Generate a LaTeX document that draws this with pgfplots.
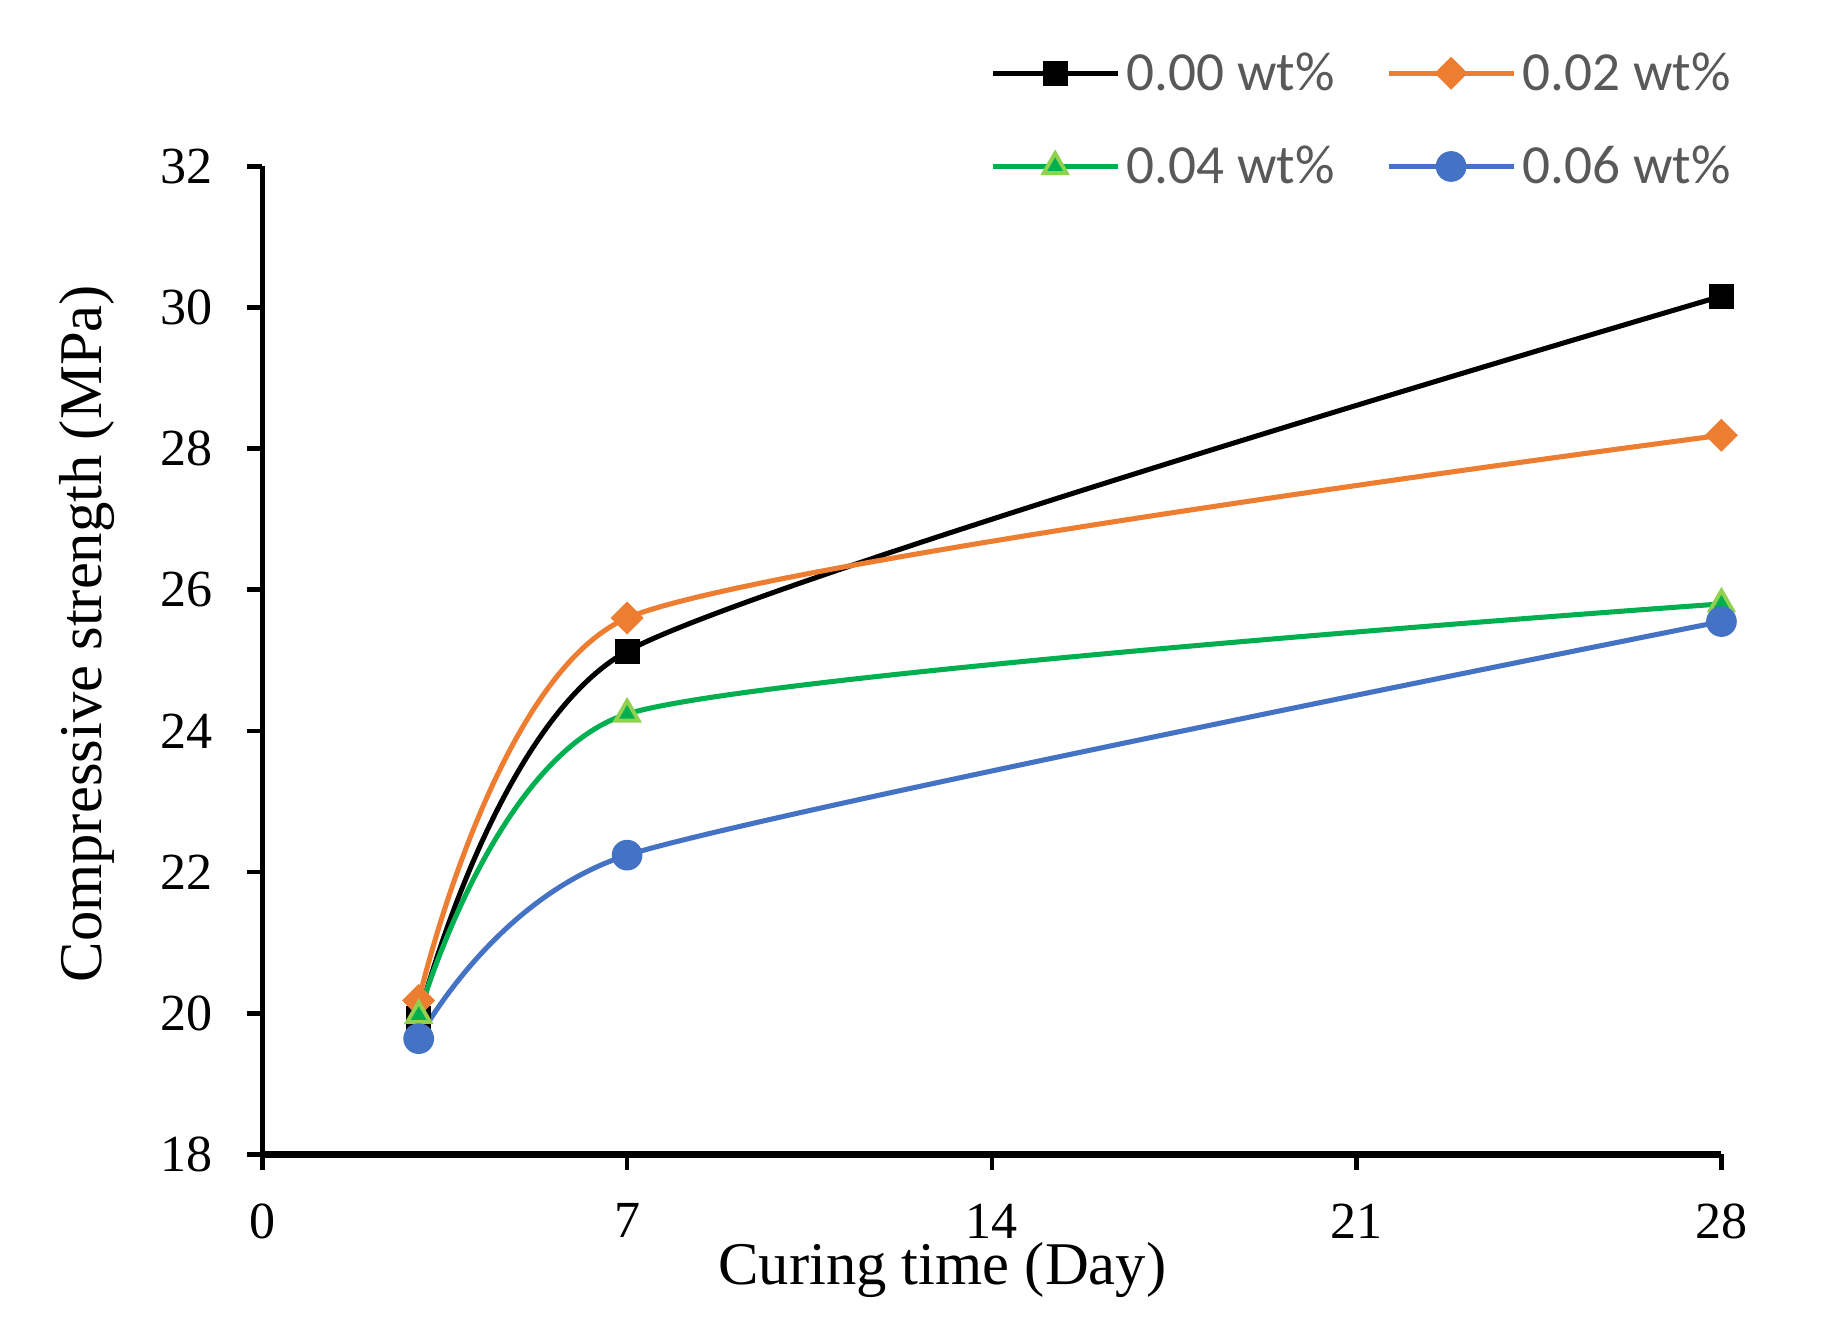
\documentclass[border=0pt]{standalone}
\usepackage{fontspec}
\setmainfont{Liberation Serif}
\newfontfamily\legendfont{Carlito}
\usepackage{pgfplots}
\pgfplotsset{compat=1.18}

\definecolor{cblack}{HTML}{000000}
\definecolor{corange}{HTML}{ED7D31}
\definecolor{cgreen}{HTML}{00B050}
\definecolor{cgreenl}{HTML}{92D050}
\definecolor{cblue}{HTML}{4472C4}
\definecolor{legtext}{HTML}{595959}

\begin{document}
\begin{tikzpicture}
\path[use as bounding box] (-67.5pt,-43.8pt) rectangle (404.1pt,297pt);
\begin{axis}[
    at={(0,0)}, anchor=south west,
    scale only axis,
    width=375.4pt, height=254.2pt,
    xmin=0, xmax=28, ymin=18, ymax=32,
    xtick={0,7,14,21,28},
    ytick={18,20,...,32},
    axis lines*=left,
    x axis line style={line width=1.7pt, -},
    y axis line style={line width=1.3pt, -},
    tick align=outside,
    major tick length=3.9pt,
    major tick style={line width=1.2pt, black},
    /pgf/number format/assume math mode=true,
    ticklabel style={font=\fontsize{13.4}{15}\selectfont},
    yticklabel style={inner sep=0pt, xshift=-8.7pt},
    xticklabel style={inner sep=0pt, yshift=-8.6pt},
    xlabel={Curing time (Day)},
    ylabel={Compressive strength (MPa)},
    label style={font=\fontsize{15.6}{17}\selectfont},
    xlabel style={at={(axis description cs:0.466,0)}, anchor=base, inner sep=0pt, yshift=-33.5pt},
    ylabel style={at={(axis description cs:0,0.527)}, anchor=base, inner sep=0pt, yshift=41.4pt},
    clip=false,
    legend columns=2,
    legend cell align=left,
    legend style={
        at={(1.0063,1.0455)}, anchor=east,
        draw=none, fill=none, inner sep=0pt, outer sep=0pt,
        font=\legendfont\fontsize{14.2}{16}\selectfont,
        text=legtext,
        nodes={inner sep=0pt, text height=10pt, text depth=2pt},
        column sep=1.8pt,
        row sep=12pt,
        /tikz/column 2/.style={column sep=13.3pt},
    },
    legend image code/.code={
        \draw[#1, mark repeat=2, mark phase=2]
            plot coordinates {(0pt,0.4pt) (16pt,0.4pt) (32pt,0.4pt)};
    },
    every axis plot/.append style={line width=1.3pt, smooth, tension=0.37},
]

\addplot[cblack, mark=square*, mark size=3pt, mark options={solid, fill=cblack, line width=0.4pt}]
    coordinates {(3,19.93) (7,25.13) (28,30.16)};
\addlegendentry{0.00 wt\%}

\addplot[corange, mark=square*, mark size=2.8pt, mark options={solid, rotate=45, fill=corange, line width=0.4pt}]
    coordinates {(3,20.18) (7,25.6) (28,28.19)};
\addlegendentry{0.02 wt\%}

\addplot[cgreen, mark=triangle*, mark size=3.4pt, mark options={solid, fill=cgreen, draw=cgreenl, line width=1pt}]
    coordinates {(3,19.97) (7,24.24) (28,25.8)};
\addlegendentry{0.04 wt\%}

\addplot[cblue, mark=*, mark size=3.75pt, mark options={solid, fill=cblue, line width=0.4pt}]
    coordinates {(3,19.64) (7,22.24) (28,25.55)};
\addlegendentry{0.06 wt\%}

\end{axis}
\end{tikzpicture}
\end{document}
